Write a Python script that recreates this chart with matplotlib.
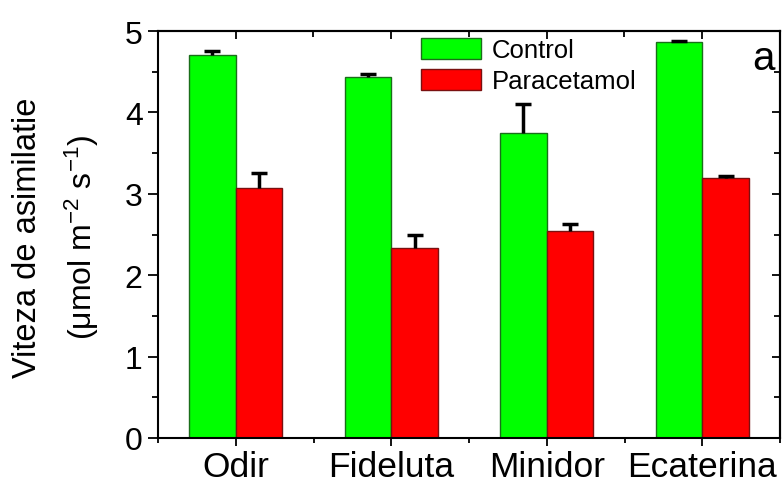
import numpy as np
import matplotlib.pyplot as plt
from matplotlib.ticker import MultipleLocator

plt.rcParams['font.family'] = ['Liberation Sans', 'DejaVu Sans']
plt.rcParams['mathtext.fontset'] = 'custom'
plt.rcParams['mathtext.rm'] = 'Liberation Sans'
plt.rcParams['mathtext.it'] = 'Liberation Sans'

soiuri = ["Odir", "Fideluta", "Minidor", "Ecaterina"]
control = [4.70, 4.44, 3.75, 4.86]
control_err = [0.05, 0.03, 0.35, 0.02]
paracetamol = [3.07, 2.34, 2.54, 3.20]
paracetamol_err = [0.19, 0.15, 0.09, 0.02]

x = np.arange(len(soiuri))
w = 0.3

fig = plt.figure(figsize=(7.84, 4.81), dpi=100)
ax = fig.add_axes([158 / 784, 1 - 439 / 481, 622 / 784, 407 / 481])

ax.bar(x - w / 2, control, w, color="#00ff00", edgecolor="#1a6e1a", linewidth=1,
       label="Control", zorder=2)
ax.bar(x + w / 2, paracetamol, w, color="#ff0000", edgecolor="#7a1010", linewidth=1,
       label="Paracetamol", zorder=2)

# only the upper half of the error bars, as in the original
for xs, vals, errs in [(x - w / 2, control, control_err), (x + w / 2, paracetamol, paracetamol_err)]:
    eb = ax.errorbar(xs, vals, yerr=[np.zeros(4), errs], fmt="none", ecolor="black",
                     elinewidth=2.5, capsize=6, capthick=2.5, zorder=3)
    eb[1][0].set_visible(False)

ax.set_xlim(-0.5, 3.5)
ax.set_ylim(0, 5)
ax.set_xticks(x)
ax.set_xticklabels(soiuri, fontsize=25.5)
ax.xaxis.set_minor_locator(MultipleLocator(0.5))
ax.set_yticks(range(6))
ax.set_yticklabels([str(i) for i in range(6)], fontsize=23)
ax.yaxis.set_minor_locator(MultipleLocator(0.5))
ax.tick_params(axis="y", which="major", direction="out", length=7.5, width=1.3, pad=3.5)
ax.tick_params(axis="y", which="minor", direction="out", length=4.5, width=1.3)
ax.tick_params(axis="x", which="major", direction="out", length=6, width=1.3, pad=3)
ax.tick_params(axis="x", which="minor", direction="out", length=3.8, width=1.3)

for s in ax.spines.values():
    s.set_linewidth(1.5)

# mirrored axes with inward ticks
top = ax.secondary_xaxis("top")
top.set_xticks(x)
top.xaxis.set_minor_locator(MultipleLocator(0.5))
top.tick_params(which="major", direction="in", length=6, width=1.3, labeltop=False)
top.tick_params(which="minor", direction="in", length=4, width=1.3)
top.spines["top"].set_linewidth(1.5)
right = ax.secondary_yaxis("right")
right.set_yticks(range(6))
right.yaxis.set_minor_locator(MultipleLocator(0.5))
right.tick_params(which="major", direction="in", length=6, width=1.3, labelright=False)
right.tick_params(which="minor", direction="in", length=4, width=1.3)
right.spines["right"].set_linewidth(1.5)

fig.text(28 / 784, 1 - 238 / 481, "Viteza de asimilatie", rotation=90,
         fontsize=23.5, ha="center", va="center")
fig.text(82 / 784, 1 - 237 / 481, r"($\mu$mol m$^{-2}$ s$^{-1}$)", rotation=90,
         fontsize=23, ha="center", va="center")

ax.legend(loc="upper left", bbox_to_anchor=(0.423, 0.983), frameon=False,
          fontsize=18.5, handlelength=2.35, handleheight=0.9, borderpad=0,
          borderaxespad=0, labelspacing=0.25, handletextpad=0.4)

ax.text(0.974, 0.934, "a", transform=ax.transAxes, fontsize=29, ha="center", va="center")

fig.savefig("out.png", dpi=100)
